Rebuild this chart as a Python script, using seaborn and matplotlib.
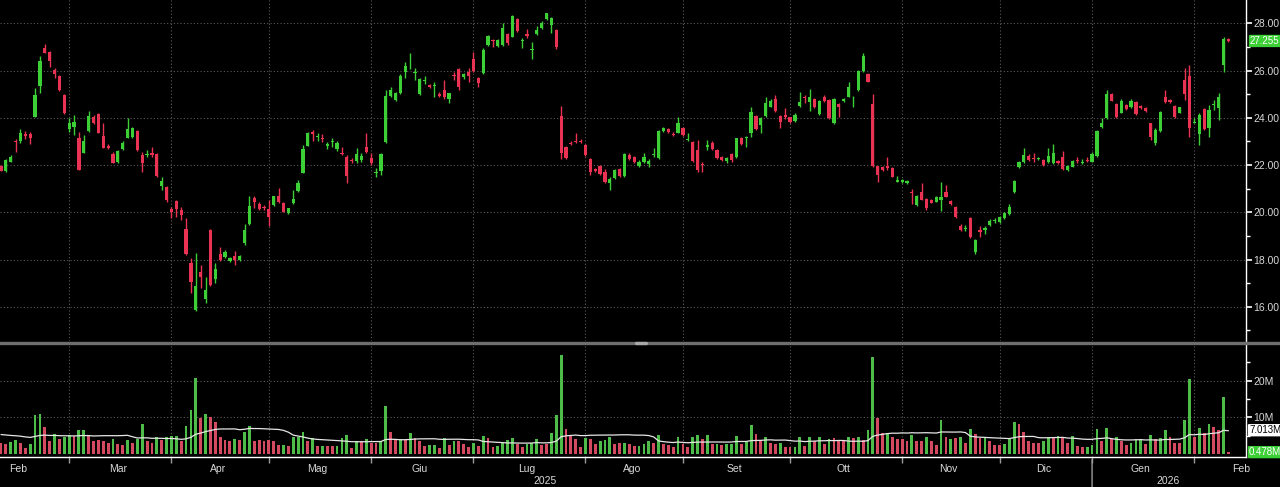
import numpy as np
import pandas as pd
import matplotlib
matplotlib.use("Agg")
import matplotlib.pyplot as plt
import seaborn as sns
from matplotlib.lines import Line2D
from matplotlib.ticker import FixedLocator, FixedFormatter, NullFormatter

# ---------------- data ----------------
start_date = "2025-02-11"
end_date = "2026-02-11"
market_holidays = ["2025-04-18", "2025-04-21", "2025-05-01", "2025-08-15",
                   "2025-12-24", "2025-12-25", "2025-12-26", "2025-12-31",
                   "2026-01-01"]
month_names = ["Gen", "Feb", "Mar", "Apr", "Mag", "Giu", "Lug", "Ago",
               "Set", "Ott", "Nov", "Dic"]

opens = [
    21.96, 21.77, 22.15, 23.00, 23.00, 23.30, 23.30, 24.05, 25.35, 26.94,
    26.77, 26.03, 25.77, 24.97, 23.53, 23.60, 23.13, 22.53, 23.44, 24.02,
    24.15, 23.23, 22.82, 22.47, 22.15, 22.68, 23.16, 23.18, 23.46, 22.43,
    22.44, 22.53, 22.46, 21.13, 21.06, 20.13, 20.48, 20.10, 19.28, 17.84,
    15.87, 17.46, 16.32, 19.23, 17.19, 18.23, 18.10, 17.92, 18.17, 17.96,
    18.69, 19.51, 20.62, 20.36, 20.22, 20.14, 20.31, 20.69, 20.38, 19.96,
    20.38, 20.90, 21.68, 22.82, 23.42, 23.18,
    23.15, 22.82, 22.97, 22.68, 22.50, 22.36, 22.22, 22.18, 22.22, 22.78,
    22.29, 21.66, 21.77, 22.99, 24.94, 24.76, 25.04, 25.92, 26.43, 25.90,
    25.00, 25.58, 25.39, 25.34, 25.03, 25.20, 24.80, 25.83, 26.05, 25.72,
    25.95, 26.48, 25.67, 25.88, 27.08, 27.29, 27.04, 27.08, 27.55, 27.44,
    28.18, 27.27, 27.53, 26.88, 27.55, 27.79, 28.17, 27.93, 27.72, 24.08,
    22.78, 22.95, 23.04, 23.04, 22.85, 22.25, 21.82, 21.96, 21.72, 21.26,
    21.44, 21.82, 21.54, 22.43, 22.33, 21.96,
    22.15, 22.04, 22.41, 22.29, 23.46, 23.51, 23.33, 23.37, 23.56, 23.06,
    22.99, 22.64, 22.06, 22.76, 22.95, 22.64, 22.36, 22.18, 22.47, 22.33,
    23.16, 23.14, 23.35, 24.08, 23.70, 24.08, 24.47, 24.78, 24.08, 24.12,
    24.02, 23.88, 24.50, 24.90, 24.69, 24.78, 24.15, 24.90, 24.76, 23.77,
    24.57, 24.71, 24.90, 24.82, 25.18, 25.98, 25.86, 24.57, 21.94, 21.90,
    21.96, 21.86, 21.30, 21.30, 21.23, 20.86, 20.31, 20.88, 20.55, 20.52,
    20.45, 20.52, 20.88, 20.47, 20.24,
    19.43, 19.31, 19.75, 18.30, 19.26, 19.26, 19.47, 19.62, 19.60, 19.75,
    19.93, 20.85, 21.93, 22.15, 22.39, 22.31, 22.27, 22.22, 22.15, 22.08,
    22.18, 22.33, 21.80, 21.93, 22.20, 22.09, 22.20, 22.15, 22.40, 23.60,
    23.98, 25.01, 24.59, 24.22, 24.54, 24.44, 24.69, 24.50, 24.40, 23.77,
    22.95, 23.46, 24.90, 24.76, 24.50, 24.22, 25.60, 25.77, 23.79, 23.30,
    24.36, 23.56, 24.55, 24.43, 26.24, 27.34,
]
highs = [
    22.02, 22.25, 22.42, 23.10, 23.52, 23.44, 23.42, 25.25, 26.62, 27.11,
    26.84, 26.10, 25.80, 25.00, 23.98, 24.12, 23.38, 23.27, 24.30, 24.12,
    24.19, 23.77, 22.88, 22.57, 22.65, 23.00, 23.98, 23.62, 23.50, 22.57,
    22.64, 22.78, 22.50, 21.51, 21.10, 20.24, 20.52, 20.24, 19.75, 18.06,
    18.27, 17.77, 17.28, 19.30, 17.84, 18.55, 18.40, 18.12, 18.34, 18.20,
    19.51, 20.69, 20.69, 20.45, 20.30, 20.52, 20.70, 21.02, 20.42, 20.20,
    20.95, 21.37, 22.85, 23.40, 23.50, 23.35,
    23.30, 22.99, 23.13, 23.00, 22.78, 22.43, 22.30, 22.71, 22.50, 23.35,
    22.50, 21.86, 22.53, 25.18, 25.30, 25.10, 25.85, 26.35, 26.76, 26.10,
    25.67, 25.77, 25.43, 25.53, 25.08, 25.60, 25.07, 25.95, 26.10, 25.90,
    26.10, 26.80, 25.74, 26.94, 27.50, 27.33, 27.35, 28.00, 27.60, 28.35,
    28.22, 27.36, 27.75, 27.22, 27.90, 28.10, 28.45, 28.28, 27.76, 24.50,
    22.82, 23.00, 23.37, 23.10, 22.90, 22.29, 21.86, 22.00, 21.82, 21.51,
    21.85, 21.86, 22.50, 22.50, 22.38, 22.20,
    22.50, 22.25, 22.71, 23.48, 23.60, 23.55, 23.38, 24.05, 23.60, 23.35,
    23.02, 23.06, 22.15, 23.06, 23.00, 22.68, 22.40, 22.33, 22.50, 23.16,
    23.20, 23.25, 24.44, 24.12, 24.05, 24.90, 24.78, 24.97, 24.12, 24.40,
    24.05, 24.20, 25.08, 24.97, 25.22, 24.82, 24.76, 24.95, 24.80, 24.82,
    24.61, 24.85, 25.50, 24.92, 26.03, 26.73, 25.90, 25.01, 21.97, 21.94,
    22.36, 21.90, 21.55, 21.40, 21.37, 20.98, 20.72, 21.23, 20.60, 20.55,
    20.70, 21.30, 21.16, 20.50, 20.28,
    19.50, 19.47, 19.82, 18.87, 19.40, 19.40, 19.70, 19.75, 19.86, 20.00,
    20.35, 21.37, 22.17, 22.71, 22.45, 22.53, 22.36, 22.25, 22.71, 22.89,
    22.22, 22.61, 22.02, 22.22, 22.36, 22.25, 22.36, 22.55, 23.48, 23.98,
    25.18, 25.05, 24.63, 24.78, 24.58, 24.78, 24.72, 24.54, 24.44, 23.80,
    23.56, 24.30, 25.18, 24.80, 24.54, 24.48, 26.10, 26.24, 23.98, 24.19,
    24.40, 24.54, 24.76, 25.04, 27.44, 27.37,
]
lows = [
    21.74, 21.72, 22.12, 22.57, 22.92, 23.10, 22.89, 24.05, 25.07, 26.73,
    26.17, 25.67, 25.15, 24.15, 23.42, 23.27, 21.79, 22.50, 23.41, 23.74,
    23.35, 22.71, 22.66, 22.08, 22.08, 22.64, 23.13, 23.15, 22.60, 21.72,
    22.33, 22.36, 21.50, 20.95, 20.45, 19.75, 19.82, 19.68, 18.20, 16.58,
    15.80, 16.79, 16.15, 16.90, 16.99, 17.92, 18.05, 17.88, 17.77, 17.93,
    18.62, 19.47, 20.17, 20.10, 20.10, 19.40, 20.28, 20.40, 20.00, 19.93,
    20.35, 20.88, 21.65, 22.80, 23.00, 23.00,
    22.96, 22.67, 22.78, 22.60, 22.43, 21.23, 22.10, 22.08, 22.15, 22.50,
    22.01, 21.51, 21.58, 22.95, 24.90, 24.70, 25.00, 25.68, 26.06, 25.60,
    24.97, 25.43, 25.25, 24.90, 24.90, 24.78, 24.61, 25.60, 25.18, 25.65,
    25.53, 25.96, 25.29, 25.85, 27.04, 27.01, 27.00, 27.04, 27.10, 27.41,
    27.65, 26.94, 27.37, 26.50, 27.50, 27.75, 28.14, 27.58, 26.90, 22.25,
    22.25, 22.85, 22.95, 22.95, 22.40, 21.58, 21.72, 21.58, 21.23, 20.95,
    21.40, 21.50, 21.50, 22.20, 22.10, 21.90,
    22.10, 21.90, 22.36, 22.25, 23.42, 23.35, 23.22, 23.35, 23.25, 23.00,
    22.15, 21.72, 21.72, 22.64, 22.64, 22.25, 22.18, 22.08, 22.15, 22.29,
    22.85, 22.78, 23.20, 23.48, 23.35, 24.05, 24.44, 24.26, 23.56, 23.93,
    23.80, 23.84, 24.47, 24.61, 24.30, 24.40, 24.10, 24.68, 23.95, 23.74,
    24.05, 24.68, 24.88, 24.47, 25.15, 25.95, 25.50, 21.90, 21.30, 21.75,
    21.80, 21.48, 21.27, 21.25, 21.20, 20.36, 20.28, 20.50, 20.10, 20.38,
    20.42, 20.04, 20.64, 20.33, 19.76,
    19.20, 19.20, 18.92, 18.24, 18.97, 19.10, 19.44, 19.56, 19.56, 19.72,
    19.90, 20.82, 21.86, 22.08, 22.18, 22.15, 22.22, 21.98, 22.10, 22.05,
    22.05, 21.79, 21.76, 21.90, 22.10, 22.04, 22.15, 22.12, 22.36, 23.56,
    23.95, 24.70, 23.98, 24.19, 24.33, 24.40, 24.12, 24.36, 24.26, 23.06,
    22.85, 23.42, 24.61, 24.64, 23.98, 24.19, 24.76, 23.20, 23.77, 22.87,
    23.48, 23.20, 24.33, 23.91, 25.92, 27.22,
]
closes = [
    21.77, 22.22, 22.36, 22.97, 23.37, 23.25, 23.13, 24.97, 26.42, 26.76,
    26.42, 25.86, 25.18, 24.19, 23.77, 23.82, 21.79, 23.02, 24.08, 23.77,
    23.35, 22.71, 22.71, 22.10, 22.60, 22.95, 23.51, 23.58, 22.64, 22.08,
    22.47, 22.43, 21.54, 21.33, 20.50, 20.02, 20.13, 19.89, 18.23, 17.03,
    16.89, 17.25, 16.72, 16.94, 17.59, 17.99, 18.31, 18.06, 17.99, 18.16,
    19.26, 20.27, 20.43, 20.13, 20.18, 19.82, 20.67, 20.45, 20.03, 20.17,
    20.55, 21.26, 22.68, 23.35, 23.30, 23.22,
    23.10, 22.88, 23.01, 22.95, 22.46, 21.54, 22.18, 22.47, 22.39, 22.57,
    22.08, 21.70, 22.47, 24.92, 25.20, 25.04, 25.77, 26.20, 26.47, 25.94,
    25.63, 25.62, 25.29, 25.38, 24.93, 24.87, 25.04, 25.79, 25.29, 25.86,
    25.78, 25.98, 25.49, 26.87, 27.46, 27.25, 27.30, 27.79, 27.15, 28.31,
    27.69, 27.31, 27.46, 26.92, 27.72, 28.03, 28.42, 28.21, 26.98, 22.53,
    22.29, 22.90, 22.98, 22.99, 22.43, 21.72, 21.76, 21.62, 21.30, 21.40,
    21.80, 21.54, 22.47, 22.25, 22.15, 22.15,
    22.36, 22.18, 22.45, 23.44, 23.55, 23.39, 23.27, 23.80, 23.28, 23.11,
    22.18, 21.80, 22.01, 22.84, 22.68, 22.29, 22.22, 22.29, 22.22, 23.13,
    22.88, 23.18, 24.23, 23.51, 23.98, 24.64, 24.73, 24.30, 23.84, 24.02,
    23.84, 24.14, 24.69, 24.85, 24.87, 24.44, 24.71, 24.71, 23.98, 24.78,
    24.47, 24.80, 25.29, 24.86, 25.98, 26.62, 25.53, 21.94, 21.58, 21.79,
    21.86, 21.51, 21.37, 21.37, 21.33, 20.82, 20.69, 20.52, 20.17, 20.41,
    20.66, 20.66, 20.66, 20.36, 19.79,
    19.26, 19.35, 18.95, 18.83, 19.16, 19.35, 19.64, 19.66, 19.82, 19.96,
    20.21, 21.33, 22.12, 22.43, 22.22, 22.27, 22.31, 22.01, 22.39, 22.50,
    22.08, 21.82, 21.98, 22.18, 22.16, 22.13, 22.16, 22.47, 23.44, 23.77,
    25.01, 24.73, 24.02, 24.73, 24.36, 24.73, 24.16, 24.40, 24.30, 23.18,
    23.49, 24.26, 24.66, 24.69, 24.02, 24.44, 25.01, 23.56, 23.83, 24.12,
    23.51, 24.33, 24.59, 24.90, 27.32, 27.255,
]
volumes_m = [
    3.1, 2.7, 3.2, 3.8, 2.9, 1.5, 2.7, 10.6, 10.8, 7.3,
    3.6, 5.5, 4.0, 4.7, 5.2, 4.9, 6.5, 6.5, 4.9, 3.5,
    3.8, 3.6, 2.9, 4.1, 2.7, 2.4, 3.8, 2.9, 4.0, 8.2,
    3.6, 2.9, 4.5, 3.8, 4.7, 4.9, 4.9, 3.5, 7.6, 12.0,
    20.6, 9.7, 10.9, 10.0, 8.8, 4.7, 3.8, 3.4, 4.0, 3.8,
    6.1, 7.6, 3.6, 3.8, 3.4, 3.8, 3.4, 2.5, 2.5, 2.2,
    4.5, 4.5, 6.1, 3.6, 4.3, 2.2,
    2.2, 2.2, 2.2, 2.2, 4.3, 5.2, 1.5, 3.4, 3.4, 4.0,
    3.1, 2.9, 3.6, 13.1, 5.9, 3.8, 4.0, 4.0, 5.6, 4.3,
    3.4, 2.2, 2.5, 2.5, 1.5, 4.3, 2.5, 3.6, 3.4, 2.7,
    1.8, 2.9, 2.2, 4.9, 4.3, 2.0, 2.2, 2.9, 3.8, 4.3,
    2.7, 1.8, 2.7, 2.9, 4.0, 2.5, 2.7, 5.6, 10.6, 27.0,
    6.7, 5.2, 4.0, 2.0, 4.3, 4.0, 2.7, 3.4, 3.8, 4.5,
    2.7, 2.9, 3.1, 2.7, 2.2, 2.2,
    2.7, 3.4, 3.1, 5.2, 2.7, 2.5, 2.0, 4.5, 2.7, 1.8,
    4.5, 5.2, 4.0, 5.2, 2.7, 2.7, 2.5, 2.7, 2.7, 4.9,
    2.7, 3.6, 7.9, 5.5, 3.6, 4.5, 2.9, 2.7, 3.1, 2.0,
    1.8, 2.0, 4.5, 2.2, 4.5, 3.4, 4.5, 2.7, 4.0, 4.3,
    3.6, 3.4, 4.7, 4.3, 4.5, 3.8, 6.5, 26.4, 9.9, 5.8,
    5.8, 4.5, 4.1, 4.0, 3.6, 5.2, 3.4, 3.4, 4.5, 3.6,
    2.5, 9.3, 4.5, 4.0, 4.3,
    4.7, 3.1, 6.8, 5.5, 4.3, 4.7, 3.4, 2.5, 2.5, 2.7,
    4.0, 8.6, 8.1, 6.0, 3.4, 2.9, 2.9, 3.5, 4.5, 4.5,
    4.9, 4.5, 3.1, 4.9, 2.2, 1.8, 2.0, 2.5, 6.7, 3.6,
    7.2, 4.0, 4.5, 3.5, 2.5, 2.9, 4.0, 4.0, 2.7, 5.2,
    4.0, 4.3, 6.5, 4.5, 3.1, 3.1, 9.3, 20.5, 4.7, 7.0,
    5.6, 8.2, 7.3, 6.4, 15.6, 0.478,
]
volume_up = [
    0, 0, 1, 1, 0, 0, 1, 1, 1, 0,
    0, 1, 0, 1, 1, 0, 1, 1, 0, 0,
    0, 0, 0, 1, 0, 0, 1, 0, 1, 1,
    0, 0, 1, 0, 1, 1, 1, 0, 1, 1,
    1, 0, 1, 0, 0, 0, 0, 0, 1, 0,
    1, 1, 0, 0, 0, 0, 0, 0, 1, 0,
    1, 1, 1, 0, 1, 0,
    1, 0, 0, 1, 1, 1, 0, 1, 0, 1,
    0, 0, 1, 1, 0, 0, 1, 0, 1, 0,
    0, 0, 1, 1, 0, 1, 0, 1, 0, 0,
    0, 1, 0, 1, 0, 0, 1, 1, 1, 1,
    0, 0, 1, 1, 1, 0, 0, 1, 1, 1,
    0, 0, 0, 0, 1, 0, 0, 1, 1, 1,
    0, 0, 1, 0, 0, 1,
    1, 1, 0, 1, 0, 0, 0, 1, 0, 0,
    1, 1, 0, 1, 0, 1, 0, 1, 1, 1,
    0, 1, 1, 0, 0, 1, 0, 0, 1, 0,
    0, 1, 1, 0, 1, 0, 1, 0, 1, 0,
    0, 0, 1, 0, 1, 0, 1, 1, 0, 0,
    1, 0, 0, 0, 0, 1, 0, 0, 1, 0,
    0, 1, 0, 1, 0,
    1, 0, 1, 0, 0, 1, 0, 0, 0, 1,
    1, 1, 0, 0, 0, 0, 0, 1, 1, 0,
    1, 0, 0, 1, 0, 0, 1, 1, 1, 0,
    1, 0, 1, 0, 0, 1, 1, 1, 0, 1,
    0, 1, 1, 0, 0, 0, 1, 1, 0, 1,
    0, 1, 0, 0, 1, 0,
]
vol_ma_window = 20
vol_ma_prior = 5.4          # average volume level before the visible window
price_ticks = [16, 18, 20, 22, 24, 26, 28]
price_minor_ticks = [15, 17, 19, 21, 23, 25, 27]
vol_ticks = [10, 20]
vol_tick_labels = ["10M", "20M"]
vol_minor_ticks = [5, 15, 25]
last_price_label = "27.255"
vol_ma_label = "7.013M"
last_vol_label = "0.478M"

# ---------------- derived frames ----------------
dates = pd.bdate_range(start_date, end_date)
dates = dates[~dates.isin(pd.to_datetime(market_holidays))]
n = len(dates)
assert n == len(opens) == len(highs) == len(lows) == len(closes) == len(volumes_m) == len(volume_up)
idx = np.arange(n)

df = pd.DataFrame({"i": idx, "date": dates, "open": opens, "high": highs,
                   "low": lows, "close": closes})
vdf = pd.DataFrame({"i": idx, "vol": volumes_m,
                    "dir": np.where(np.array(volume_up) == 1, "up", "down")})
padded = np.r_[np.full(vol_ma_window - 1, vol_ma_prior), np.array(volumes_m)]
vol_ma = pd.Series(padded).rolling(vol_ma_window).mean().to_numpy()[vol_ma_window - 1:]

GREEN = "#3ccf36"
RED = "#ea3352"
GRID = "#5a5a5a"
TXT = "#d8d8d8"
FS = 7.5
FS_BADGE = 7.0

# ---------------- styling ----------------
sns.set_theme(style="dark", rc={"axes.facecolor": "black", "figure.facecolor": "black",
                                "axes.edgecolor": "white", "text.color": TXT,
                                "xtick.color": TXT, "ytick.color": TXT})
plt.rcParams["font.family"] = ["Liberation Sans", "DejaVu Sans"]

W, H = 1280, 487
fig = plt.figure(figsize=(W / 100, H / 100), dpi=100, facecolor="black")
ax_p = fig.add_axes([0, 1 - 341 / H, 1246 / W, 341 / H])
ax_v = fig.add_axes([0, 1 - 457 / H, 1246 / W, 112 / H])

# ---------------- candles ----------------
up = df["close"] >= df["open"]
colors = np.where(up, GREEN, RED)
body_bottom = np.minimum(df["open"], df["close"])
body_h = np.maximum(np.abs(df["close"] - df["open"]), 0.04)
ax_p.vlines(df["i"], df["low"], df["high"], colors=colors, lw=1.0, zorder=3)
ax_p.bar(df["i"], body_h, bottom=body_bottom, width=0.66, color=colors, lw=0, zorder=4)

# ---------------- volume ----------------
sns.barplot(data=vdf, x="i", y="vol", hue="dir", palette={"up": GREEN, "down": RED},
            native_scale=True, dodge=False, width=0.58, linewidth=0,
            errorbar=None, legend=False, ax=ax_v, zorder=3)
sns.lineplot(x=idx, y=vol_ma, color="#e6e6e6", lw=0.9, ax=ax_v, zorder=4)

# ---------------- axes limits ----------------
xlim = (-0.2, 255.6)
for ax in (ax_p, ax_v):
    ax.set_xlim(*xlim)
    ax.set_facecolor("black")
    ax.set_xlabel("")
    ax.set_ylabel("")
    for s in ("top", "left", "bottom"):
        ax.spines[s].set_visible(False)
    ax.spines["right"].set_color("white")
    ax.spines["right"].set_linewidth(1.0)
ax_p.set_ylim(14.55, 28.99)
ax_v.set_ylim(-0.85, 29.75)
ax_v.spines["bottom"].set_visible(True)
ax_v.spines["bottom"].set_color("white")
ax_v.spines["bottom"].set_linewidth(1.0)

# month boundaries / labels
df["ym"] = df["date"].dt.to_period("M")
groups = list(df.groupby("ym"))
bounds, mlabels = [], []
for k, (per, g) in enumerate(groups):
    first, last = int(g["i"].iloc[0]), int(g["i"].iloc[-1])
    if k == 0 or k == len(groups) - 1:
        full = pd.bdate_range(per.start_time, per.end_time.normalize())
        before = int((full < g["date"].iloc[0]).sum())
        center = first - before + (len(full) - 1) / 2
    else:
        center = (first + last) / 2
    if k > 0:
        bounds.append(first)
    mlabels.append((center, month_names[per.month - 1]))

years = df.groupby(df["date"].dt.year)["i"].agg(["min", "max"])
year_labels = []
for yr, row in years.iterrows():
    lo = max(row["min"] - 0.5, xlim[0])
    hi = min(row["max"] + 0.5, xlim[1]) if yr != years.index[-1] else xlim[1]
    year_labels.append(((lo + hi) / 2, str(yr)))
year_starts = [int(r["min"]) for yr, r in years.iterrows()][1:]

# ---------------- ticks & grid ----------------
grid_kw = dict(color=GRID, ls=(0, (1, 2)), lw=0.8)
ax_p.xaxis.set_major_locator(FixedLocator(bounds))
ax_p.xaxis.set_major_formatter(NullFormatter())
ax_p.tick_params(axis="x", which="both", length=0)
ax_p.grid(True, axis="both", which="major", **grid_kw)

ax_p.yaxis.tick_right()
ax_p.yaxis.set_major_locator(FixedLocator(price_ticks))
ax_p.yaxis.set_major_formatter(FixedFormatter([f"{t:.2f}" for t in price_ticks]))
ax_p.yaxis.set_minor_locator(FixedLocator(price_minor_ticks))
ax_p.tick_params(axis="y", which="major", right=True, left=False, labelright=True,
                 labelleft=False, length=4, width=1.2, color="white",
                 labelcolor=TXT, labelsize=FS, pad=1.5, direction="out")
ax_p.tick_params(axis="y", which="minor", right=True, left=False, length=3,
                 width=1, color="white", direction="out")

ax_v.xaxis.set_major_locator(FixedLocator(bounds))
ax_v.xaxis.set_major_formatter(NullFormatter())
ax_v.tick_params(axis="x", which="major", bottom=True, length=4, width=1,
                 color="#9a9a9a", direction="out")
ax_v.grid(True, axis="both", which="major", **grid_kw)
ax_v.yaxis.tick_right()
ax_v.yaxis.set_major_locator(FixedLocator(vol_ticks))
ax_v.yaxis.set_major_formatter(FixedFormatter(vol_tick_labels))
ax_v.yaxis.set_minor_locator(FixedLocator(vol_minor_ticks))
ax_v.tick_params(axis="y", which="major", right=True, left=False, labelright=True,
                 labelleft=False, length=4, width=1.2, color="white",
                 labelcolor=TXT, labelsize=FS, pad=1.5, direction="out")
ax_v.tick_params(axis="y", which="minor", right=True, left=False, length=3,
                 width=1, color="white", direction="out")

# month & year labels under the volume panel
for x, lab in mlabels:
    ax_v.annotate(lab, xy=(x, 0), xycoords=("data", "axes fraction"),
                  xytext=(0, -12), textcoords="offset pixels", ha="center",
                  va="center", fontsize=FS, color=TXT, annotation_clip=False)
for x, lab in year_labels:
    ax_v.annotate(lab, xy=(x, 0), xycoords=("data", "axes fraction"),
                  xytext=(0, -24), textcoords="offset pixels", ha="center",
                  va="center", fontsize=FS, color=TXT, annotation_clip=False)
for ys in year_starts:
    ax_v.annotate("", xy=(ys, 0), xycoords=("data", "axes fraction"),
                  xytext=(ys, -0.3), textcoords=("data", "axes fraction"),
                  arrowprops=dict(arrowstyle="-", color="#9a9a9a", lw=1),
                  annotation_clip=False)

# value badges on the right axis
badge = dict(boxstyle="round,pad=0.12", ec="none")
ax_p.annotate(last_price_label, xy=(1.0, closes[-1]), xycoords=("axes fraction", "data"),
              xytext=(4, 0), textcoords="offset pixels", ha="left", va="center",
              fontsize=FS_BADGE, color="white", bbox=dict(fc=GREEN, **badge),
              annotation_clip=False)
ax_v.annotate(vol_ma_label, xy=(1.0, float(vol_ma_label[:-1])),
              xycoords=("axes fraction", "data"), xytext=(3, -2),
              textcoords="offset pixels", ha="left", va="center", fontsize=FS_BADGE,
              color="black", bbox=dict(fc="white", **badge), annotation_clip=False)
ax_v.annotate(last_vol_label, xy=(1.0, volumes_m[-1]), xycoords=("axes fraction", "data"),
              xytext=(3, 0), textcoords="offset pixels", ha="left", va="center",
              fontsize=FS_BADGE, color="white", bbox=dict(fc=GREEN, **badge),
              annotation_clip=False)

# panel separator
ysep = 1 - 343 / H
fig.add_artist(Line2D([0, 1], [ysep, ysep], transform=fig.transFigure,
                      color="#6e6e6e", lw=2.4))
fig.add_artist(Line2D([636 / W, 646 / W], [ysep, ysep], transform=fig.transFigure,
                      color="#a8a8a8", lw=2.4))

fig.savefig("out.png", dpi=100, facecolor="black")
